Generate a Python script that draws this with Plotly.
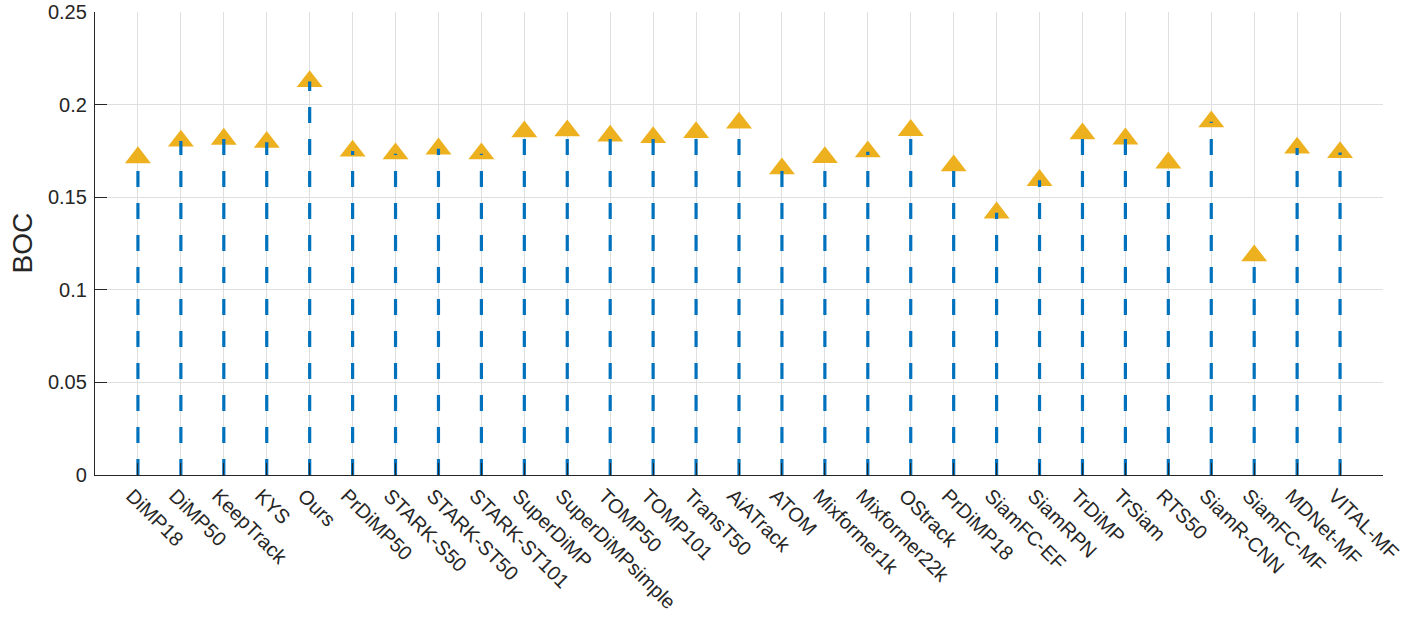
import plotly.graph_objects as go

trackers = ["DiMP18", "DiMP50", "KeepTrack", "KYS", "Ours", "PrDiMP50", "STARK-S50",
            "STARK-ST50", "STARK-ST101", "SuperDiMP", "SuperDiMPsimple", "TOMP50",
            "TOMP101", "TransT50", "AiATrack", "ATOM", "Mixformer1k", "Mixformer22k",
            "OStrack", "PrDiMP18", "SiamFC-EF", "SiamRPN", "TrDiMP", "TrSiam", "RTS50",
            "SiamR-CNN", "SiamFC-MF", "MDNet-MF", "VITAL-MF"]
boc = [0.1714, 0.1804, 0.1814, 0.1797, 0.2125, 0.1750, 0.1735,
       0.1761, 0.1735, 0.1854, 0.1859, 0.1831,
       0.1823, 0.1850, 0.1901, 0.1654, 0.1715, 0.1746,
       0.1861, 0.1670, 0.1416, 0.1591, 0.1843, 0.1815, 0.1686,
       0.1908, 0.1184, 0.1766, 0.1742]

y_ticks = [0, 0.05, 0.1, 0.15, 0.2, 0.25]
y_ticktext = ["0", "0.05", "0.1", "0.15", "0.2", "0.25"]

STEM = "#0072BD"
MARK = "#EDB120"
AX = "#262626"
GRID = "#dfdfdf"

ML, MR, MT, MB = 95, 28, 12, 145
W, H = 1411, 620

fig = go.Figure()

# markers first (stems drawn on top, as in the reference)
fig.add_trace(go.Scatter(
    x=trackers, y=boc, mode="markers",
    marker=dict(symbol="triangle-up", size=22.5, color=MARK, line=dict(width=0)),
    showlegend=False, hoverinfo="x+y"))

for name, v in zip(trackers, boc):
    fig.add_trace(go.Scatter(
        x=[name, name], y=[0, v], mode="lines",
        line=dict(color=STEM, width=3.2, dash="16px,16px"),
        showlegend=False, hoverinfo="skip"))

fig.update_layout(
    width=W, height=H,
    margin=dict(l=ML, r=MR, t=MT, b=MB, autoexpand=False),
    paper_bgcolor="white", plot_bgcolor="white",
    font=dict(family="Liberation Sans, Arial, sans-serif", size=20, color=AX),
    annotations=[dict(
        text="BOC", xref="paper", yref="paper",
        x=(22 - ML) / (W - ML - MR), y=0.5, xanchor="center", yanchor="middle",
        textangle=-90, showarrow=False, font=dict(size=28, color=AX))],
)
fig.update_xaxes(
    type="category", categoryorder="array", categoryarray=trackers,
    range=[-1, len(trackers)], automargin=False,
    showgrid=True, gridcolor=GRID, gridwidth=1,
    showline=True, linecolor=AX, linewidth=1.3,
    ticks="inside", ticklen=12, tickcolor=AX, tickwidth=1.3,
    tickangle=45, tickfont=dict(size=20, color=AX),
    ticklabelshift=-6,
    zeroline=False,
)
fig.update_yaxes(
    range=[0, 0.25], tickvals=y_ticks, ticktext=y_ticktext, automargin=False,
    showgrid=True, gridcolor=GRID, gridwidth=1,
    showline=True, linecolor=AX, linewidth=1.3,
    ticks="inside", ticklen=12, tickcolor=AX, tickwidth=1.3,
    tickfont=dict(size=20, color=AX),
    ticklabelstandoff=3,
    zeroline=False,
)

fig.write_html(
    "out.html",
    config={"displayModeBar": False},
    post_script="document.body.style.margin='0';document.body.style.padding='0';",
)
